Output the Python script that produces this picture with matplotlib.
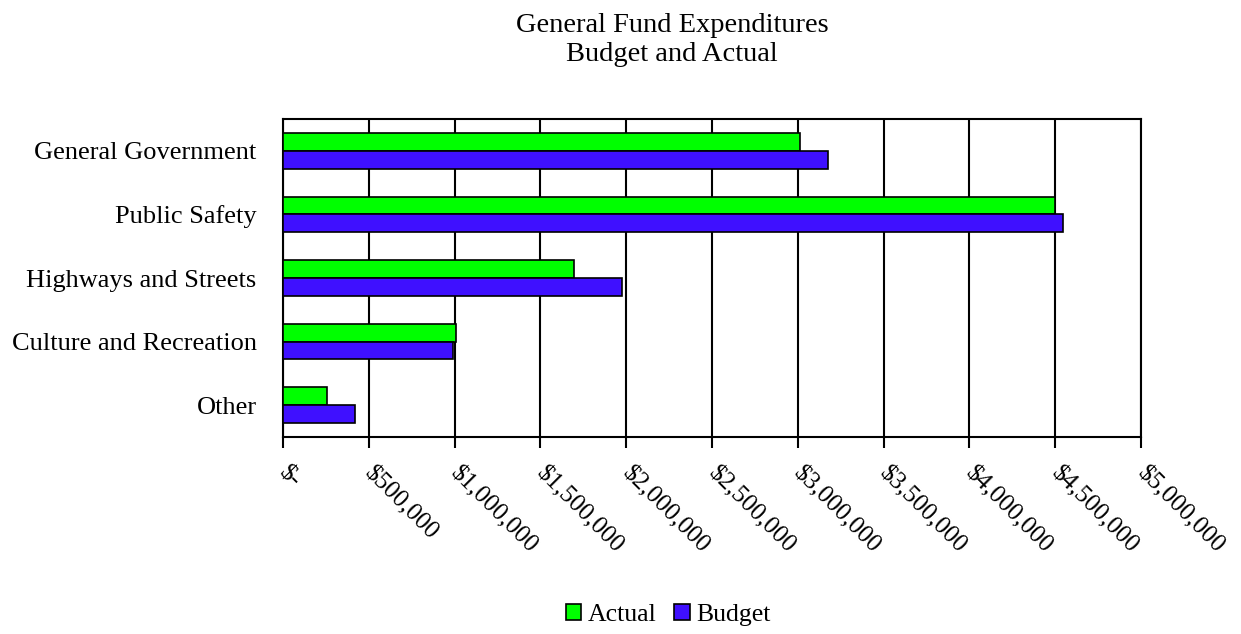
import matplotlib
matplotlib.use("Agg")
import matplotlib.pyplot as plt
import matplotlib.transforms as mtransforms
import numpy as np

plt.rcParams['font.family'] = ['Liberation Serif', 'DejaVu Serif']

categories = ["General Government", "Public Safety", "Highways and Streets",
              "Culture and Recreation", "Other"]
actual = [3013000, 4497000, 1696000, 1010000, 258000]
budget = [3176000, 4547000, 1976000, 990000, 419000]
xticks = np.arange(0, 5000001, 500000)
xlabels = ["$-"] + ["$" + format(v, ",") for v in xticks[1:]]

fig = plt.figure(figsize=(12.41, 6.34), dpi=100)
ax = fig.add_axes([283/1241, 1 - 437/634, (1141-283)/1241, (437-119)/634])

y = np.arange(len(categories))
h = 0.28
ax.barh(y - h/2, actual, height=h, color="#00ff00", edgecolor="black", linewidth=1.2, label="Actual", zorder=3)
ax.barh(y + h/2, budget, height=h, color="#3f10ff", edgecolor="black", linewidth=1.2, label="Budget", zorder=3)

ax.set_ylim(len(categories) - 0.5, -0.5)
ax.set_xlim(0, 5000000)
ax.set_yticks(y)
ax.set_yticklabels(categories, fontsize=19)
ax.tick_params(axis="y", length=0, pad=19)
ax.set_xticks(xticks)
ax.set_xticklabels(xlabels, fontsize=18, rotation=-45, ha="left", va="top", rotation_mode="anchor")
ax.tick_params(axis="x", length=8, width=1.5, direction="out", pad=10)
# nudge the slanted labels a little to the right, like the original
shift = mtransforms.ScaledTranslation(7/100, 0, fig.dpi_scale_trans)
for lab in ax.get_xticklabels():
    lab.set_transform(lab.get_transform() + shift)
ax.grid(axis="x", color="black", linewidth=1.5, zorder=0)
for s in ax.spines.values():
    s.set_linewidth(1.5)

fig.text(672/1241, 1 - 40/634, "General Fund Expenditures\nBudget and Actual",
         ha="center", va="center", fontsize=20.5, linespacing=1.25)

fig.legend(loc="center", bbox_to_anchor=(668/1241, 1 - 615/634), ncol=2, frameon=False,
           fontsize=18.5, handlelength=0.6, handleheight=0.6, handletextpad=0.25, columnspacing=0.7)

fig.savefig("out.png", dpi=100)
